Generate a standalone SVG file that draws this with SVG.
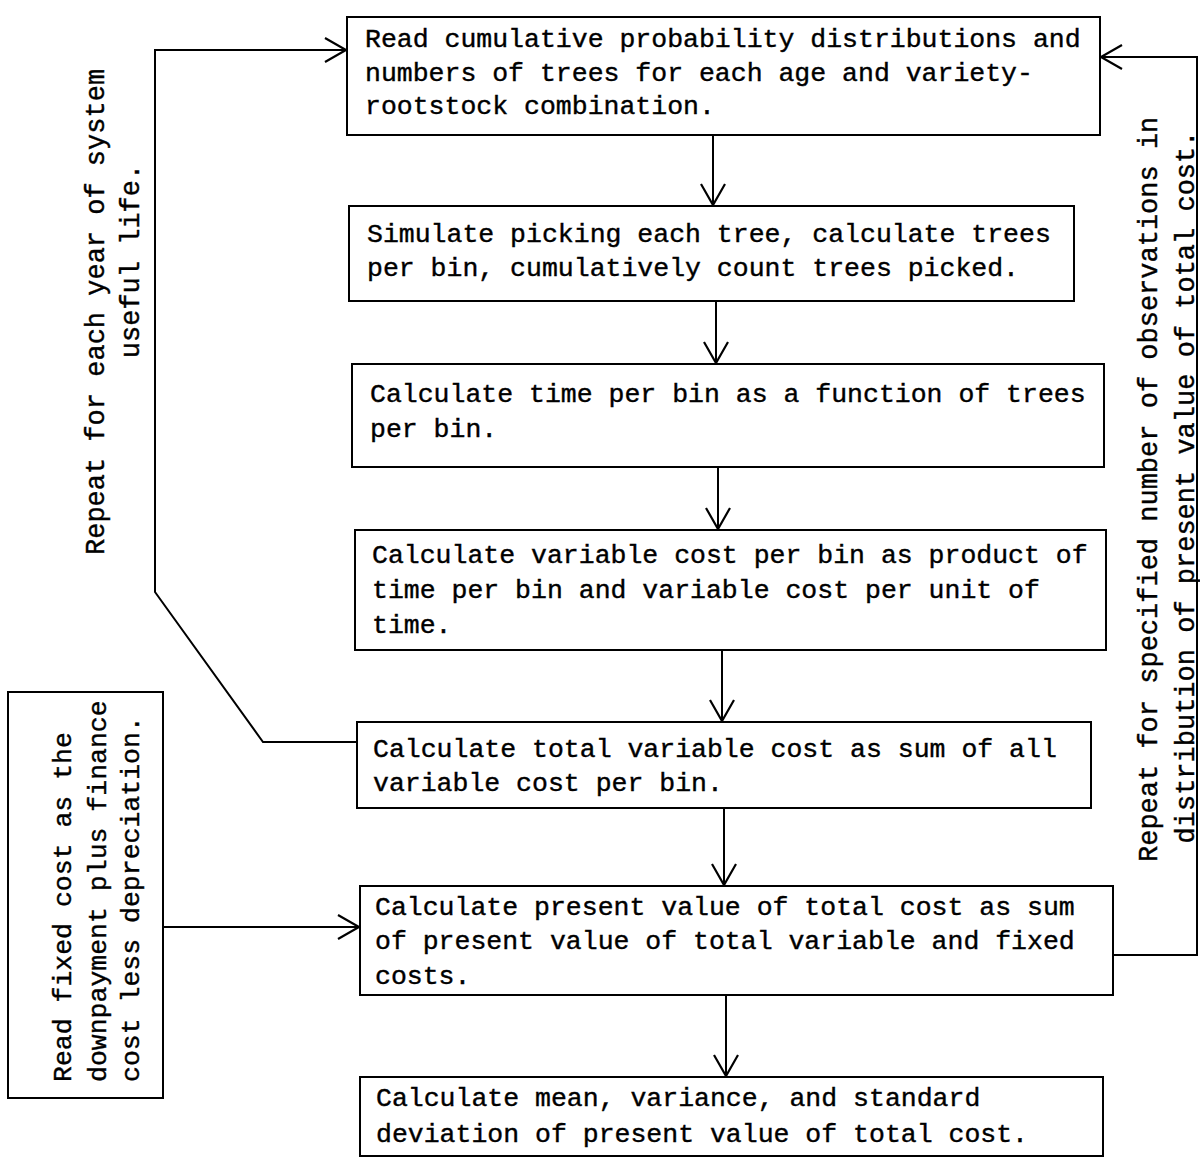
<svg xmlns="http://www.w3.org/2000/svg" width="1200" height="1158" viewBox="0 0 1200 1158">
<style>
.box{fill:#fff;stroke:#000;stroke-width:2}
.t{font-family:"Liberation Mono","DejaVu Sans Mono",monospace;font-size:26.5px;fill:#000;stroke:#000;stroke-width:0.4}
.r{font-size:27px}
.ln{fill:none;stroke:#000;stroke-width:2}
</style>
<defs>
<marker id="ah" markerUnits="userSpaceOnUse" markerWidth="30" markerHeight="30" viewBox="-24 -15 28 30" refX="0" refY="0" orient="auto">
<path d="M-21,-12 L0,0 L-21,12" fill="none" stroke="#000" stroke-width="2.2"/>
</marker>
</defs>
<rect width="1200" height="1158" fill="#fff"/>
<g id="connectors">
<line class="ln" x1="713" y1="135" x2="713" y2="205" marker-end="url(#ah)"/>
<line class="ln" x1="716" y1="301" x2="716" y2="363" marker-end="url(#ah)"/>
<line class="ln" x1="718" y1="467" x2="718" y2="529" marker-end="url(#ah)"/>
<line class="ln" x1="722" y1="650" x2="722" y2="721" marker-end="url(#ah)"/>
<line class="ln" x1="724" y1="808" x2="724" y2="885" marker-end="url(#ah)"/>
<line class="ln" x1="726" y1="995" x2="726" y2="1076" marker-end="url(#ah)"/>
<polyline class="ln" points="357,742 263,742 155,592 155,50 346,50" marker-end="url(#ah)"/>
<polyline class="ln" points="1113,955 1197,955 1197,57 1101,57" marker-end="url(#ah)"/>
<line class="ln" x1="163" y1="927" x2="359" y2="927" marker-end="url(#ah)"/>
</g>
<g id="node1">
<rect class="box" x="347" y="17" width="753" height="118"/>
<text class="t" x="365" y="47">Read cumulative probability distributions and</text>
<text class="t" x="365" y="81">numbers of trees for each age and variety-</text>
<text class="t" x="365" y="114">rootstock combination.</text>
</g>
<g id="node2">
<rect class="box" x="349" y="206" width="725" height="95"/>
<text class="t" x="367" y="242">Simulate picking each tree, calculate trees</text>
<text class="t" x="367" y="276">per bin, cumulatively count trees picked.</text>
</g>
<g id="node3">
<rect class="box" x="352" y="364" width="752" height="103"/>
<text class="t" x="370" y="402">Calculate time per bin as a function of trees</text>
<text class="t" x="370" y="437">per bin.</text>
</g>
<g id="node4">
<rect class="box" x="355" y="530" width="751" height="120"/>
<text class="t" x="372" y="563">Calculate variable cost per bin as product of</text>
<text class="t" x="372" y="598">time per bin and variable cost per unit of</text>
<text class="t" x="372" y="633">time.</text>
</g>
<g id="node5">
<rect class="box" x="357" y="722" width="734" height="86"/>
<text class="t" x="373" y="757">Calculate total variable cost as sum of all</text>
<text class="t" x="373" y="791">variable cost per bin.</text>
</g>
<g id="node6">
<rect class="box" x="360" y="886" width="753" height="109"/>
<text class="t" x="375" y="915">Calculate present value of total cost as sum</text>
<text class="t" x="375" y="949">of present value of total variable and fixed</text>
<text class="t" x="375" y="984">costs.</text>
</g>
<g id="node7">
<rect class="box" x="360" y="1077" width="743" height="79"/>
<text class="t" x="376" y="1106">Calculate mean, variance, and standard</text>
<text class="t" x="376" y="1142">deviation of present value of total cost.</text>
</g>
<g id="node8">
<rect class="box" x="8" y="692" width="155" height="406"/>
<text class="t" transform="translate(71,1082) rotate(-90)">Read fixed cost as the</text>
<text class="t" transform="translate(106,1082) rotate(-90)">downpayment plus finance</text>
<text class="t" transform="translate(139,1082) rotate(-90)">cost less depreciation.</text>
</g>
<g id="loop-labels">
<text class="t r" transform="translate(104,555) rotate(-90)">Repeat for each year of system</text>
<text class="t r" text-anchor="middle" transform="translate(139,261) rotate(-90)">useful life.</text>
<text class="t r" transform="translate(1157,862) rotate(-90)">Repeat for specified number of observations in</text>
<text class="t r" text-anchor="middle" transform="translate(1194,487) rotate(-90)">distribution of present value of total cost.</text>
</g>
</svg>
